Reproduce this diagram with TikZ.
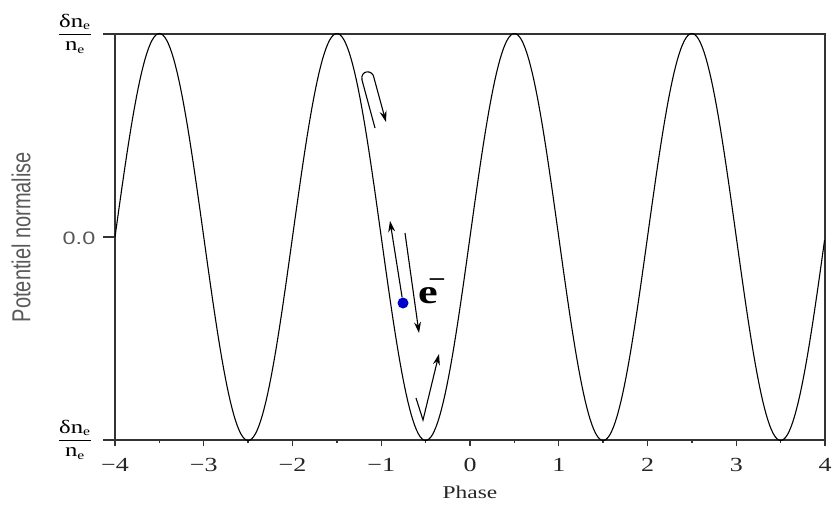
\documentclass[tikz,border=0pt]{standalone}
\usepackage{fontspec}
\setmainfont{Liberation Serif}
\setsansfont{Liberation Sans}
\usepackage{amsmath}
\usetikzlibrary{arrows.meta}
\newcommand\wider[1]{\scalebox{1.3}[1]{#1}}

\begin{document}
\begin{tikzpicture}[x=1pt, y=-1pt, >={Stealth[length=11pt,width=7pt]},
  axisline/.style={draw=black!80, line width=1.4pt},
  wave/.style={line width=1.1pt},
  move/.style={->, line width=1.1pt},
  ticklbl/.style={font=\fontsize{20}{22}\selectfont, text=black!85},
  sanslbl/.style={font=\sffamily\fontsize{18}{20}\selectfont, text=black!65}]
\useasboundingbox (0,0) rectangle (835,506);
% frame and axes
\draw[axisline] (103,34) -- (825,34) -- (825,446);
\draw[axisline] (115,34) -- (115,446);
\draw[axisline] (103,440) -- (825,440);
\draw[axisline] (103,237) -- (115,237);
\foreach \t/\l in {-4/−4,-3/−3,-2/−2,-1/−1,0/0,1/1,2/2,3/3,4/4}{
  \draw[axisline] ({470+88.75*\t},440) -- ++(0,6);
  \node[ticklbl] (tick\t) at ({470+88.75*\t},465) {\wider{\l}};
}
\foreach \t in {-3.5,-2.5,...,3.5}
  \draw[axisline] ({470+88.75*\t},440) -- ++(0,3);
% potential
\draw[wave] plot[domain=-4:4, samples=401] ({470+88.75*\x},{237-203.5*sin(180*\x)});
% labels
\node[anchor=base, font=\fontsize{19}{21}\selectfont] (fractop) at (75,39)
  {\wider{$\dfrac{\text{δn}_{\text{\large e}}}{\text{n}_{\text{\large e}}}$}};
\node[anchor=base, font=\fontsize{19}{21}\selectfont] (fracbot) at (75,445)
  {\wider{$\dfrac{\text{δn}_{\text{\large e}}}{\text{n}_{\text{\large e}}}$}};
\node[sanslbl] (zero) at (79,238) {\wider{0.0}};
\node[sanslbl, rotate=90, font=\sffamily\fontsize{20}{22}\selectfont] (ylabel) at (21,237)
  {\scalebox{1}[1.3]{Potentiel normalise}};
\node[ticklbl, font=\fontsize{18}{20}\selectfont] (xlabel) at (470,492) {\wider{Phase}};
% electron
\node[circle, fill=blue!80!black, inner sep=0pt, minimum size=11pt] (elec) at (403,303) {};
\node[anchor=base west, inner sep=0pt, font=\bfseries\fontsize{34}{36}\selectfont] (elbl) at (418,303)
  {\wider{e\kern-0.22em\raisebox{0.45em}{\fontsize{24}{24}\selectfont −}}};
% motion
\coordinate (hookA) at (375,128);
\coordinate (hookB) at (386,122);
\coordinate (upend) at (390,221);
\coordinate (downA) at (405,233);
\coordinate (downB) at (419,333);
\coordinate (vA) at (416,398);
\coordinate (vB) at (423,420);
\coordinate (vC) at (439,354);
\draw[move] (hookA) -- (362,80) .. controls (360,70) and (373,69) .. (374,78) -- (hookB);
\draw[move] (elec) -- (upend);
\draw[move] (downA) -- (downB);
\draw[move] (vA) -- (vB) -- (vC);
\end{tikzpicture}
\end{document}
